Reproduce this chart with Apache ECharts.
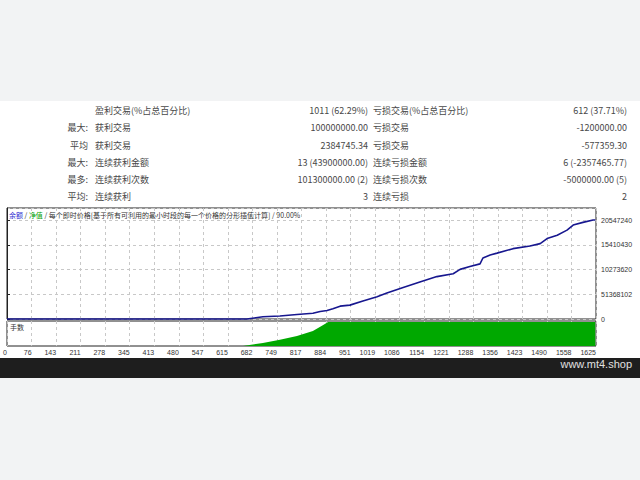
<!DOCTYPE html>
<html>
<head>
<meta charset="utf-8">
<script src="https://cdn.jsdelivr.net/npm/echarts/dist/echarts.min.js"></script>
<style>
  html, body { margin:0; padding:0; width:640px; height:480px; background:#f2f3f4; overflow:hidden; }
  #white { position:absolute; left:0; top:101px; width:640px; height:257px; background:#ffffff; }
  #footer { position:absolute; left:0; top:358px; width:640px; height:20px; background:#1e1e1e; }
  #footer span { position:absolute; right:8px; top:0; line-height:20px; color:#e0e0e0; font:11px "Liberation Sans", Arial, sans-serif; }
  .cell { position:absolute; height:12px; line-height:12px; font:9px "Noto Sans CJK SC", "Liberation Sans", sans-serif; color:#484848; white-space:nowrap; }
  #chart { position:absolute; left:0; top:200px; width:640px; height:158px; }
</style>
</head>
<body>
<div id="white"></div>
<div id="table"></div>
<div id="chart"></div>
<div id="footer"><span>www.mt4.shop</span></div>
<script>
// ---- table text ----
const rowPrefix  = ['', '最大:', '平均', '最大:', '最多:', '平均:'];
const winLabels  = ['盈利交易(%占总百分比)', '获利交易', '获利交易', '连续获利金额', '连续获利次数', '连续获利'];
const winValues  = ['1011 (62.29%)', '100000000.00', '2384745.34', '13 (43900000.00)', '101300000.00 (2)', '3'];
const lossLabels = ['亏损交易(%占总百分比)', '亏损交易', '亏损交易', '连续亏损金额', '连续亏损次数', '连续亏损'];
const lossValues = ['612 (37.71%)', '-1200000.00', '-577359.30', '6 (-2357465.77)', '-5000000.00 (5)', '2'];

// ---- chart data ----
const xTickLabels = ['0','76','143','211','278','345','413','480','547','615','682','749','817','884','951','1019','1086','1154','1221','1288','1356','1423','1490','1558','1625'];
const yTickLabels = ['0','51368102','10273620','15410430','20547240'];
const balanceTrades = [0, 662, 706, 753, 800, 844, 864, 883, 899, 919, 946, 982, 1021, 1048, 1093, 1139, 1186, 1231, 1250, 1277, 1305, 1313, 1333, 1352, 1396, 1443, 1471, 1490, 1518, 1545, 1562, 1589, 1617, 1623];
const balanceValues = [0, 0, 460000, 630000, 930000, 1200000, 1550000, 1770000, 2150000, 2670000, 2880000, 3720000, 4630000, 5400000, 6560000, 7700000, 8800000, 9400000, 10300000, 10900000, 11440000, 12660000, 13300000, 13670000, 14600000, 15140000, 15650000, 16700000, 17400000, 18440000, 19500000, 20060000, 20550000, 20547240];
const lotTrades = [0, 651, 706, 753, 800, 844, 870, 886, 1623];
const lotValues = [0, 0, 12, 25, 40, 60, 82, 96, 96];

// build table
(function(){
  const t = document.getElementById('table');
  const rowY = [110, 127.3, 144.5, 161.8, 179, 196.3];
  function add(text, x, y, align){
    const d = document.createElement('div');
    d.className = 'cell';
    d.textContent = text;
    d.style.top = (y - 6) + 'px';
    if (align === 'right') { d.style.right = (640 - x) + 'px'; } else { d.style.left = x + 'px'; }
    t.appendChild(d);
  }
  for (let i = 0; i < 6; i++) {
    if (rowPrefix[i]) add(rowPrefix[i], 88, rowY[i], 'right');
    add(winLabels[i], 95, rowY[i], 'left');
    add(winValues[i], 368, rowY[i], 'right');
    add(lossLabels[i], 373, rowY[i], 'left');
    add(lossValues[i], 627, rowY[i], 'right');
  }
})();

const chart = echarts.init(document.getElementById('chart'), null, {renderer:'svg'});
const X_MAX = 1625;
const X_INT = X_MAX / 24;
const Y_INT = 5136810;
const gridLine = { show:true, lineStyle:{ color:'#c8c8c8', type:[3,3], width:1 } };
function xFmt(v){
  const i = Math.round(v / X_INT);
  return (Math.abs(v - i * X_INT) < 0.5 && xTickLabels[i] !== undefined) ? xTickLabels[i] : '';
}
function yFmt(v){
  const i = Math.round(v / Y_INT);
  return (Math.abs(v - i * Y_INT) < 1 && yTickLabels[i] !== undefined) ? yTickLabels[i] : '';
}
const font7 = '"Liberation Sans", Arial, sans-serif';

chart.setOption({
  animation:false,
  grid:[
    { left:7, right:44, top:8, height:111, show:true, borderColor:'#222', borderWidth:1, backgroundColor:'#fff' },
    { left:7, right:44, top:121, height:25, show:true, borderColor:'#222', borderWidth:1, backgroundColor:'#fff' }
  ],
  xAxis:[
    { type:'value', gridIndex:0, min:0, max:X_MAX, interval:X_INT,
      axisLine:{show:false}, axisTick:{show:false}, axisLabel:{show:false}, splitLine:gridLine },
    { type:'value', gridIndex:1, min:0, max:X_MAX, interval:X_INT,
      axisLine:{show:false}, axisTick:{show:false}, splitLine:gridLine,
      axisLabel:{ show:true, formatter:xFmt, fontSize:7, color:'#333', fontFamily:font7, align:'right', margin:3, showMinLabel:true, showMaxLabel:true } }
  ],
  yAxis:[
    { type:'value', gridIndex:0, position:'right', min:0, max:23040000, interval:Y_INT,
      axisLine:{show:true, lineStyle:{color:'#222'}}, axisTick:{show:true, length:3, inside:false, lineStyle:{color:'#222'}},
      axisLabel:{ formatter:yFmt, fontSize:7, color:'#333', fontFamily:font7, margin:5, showMaxLabel:false }, splitLine:gridLine },
    { type:'value', gridIndex:1, position:'right', min:0, max:100,
      axisLine:{show:false}, axisTick:{show:false}, axisLabel:{show:false}, splitLine:{show:false} }
  ],
  series:[
    { type:'line', xAxisIndex:1, yAxisIndex:1, symbol:'none', silent:true,
      data: lotTrades.map((t,i)=>[t, lotValues[i]]),
      lineStyle:{ width:0, color:'#00a800' }, areaStyle:{ color:'#00a800', opacity:1 } },
    { type:'line', xAxisIndex:0, yAxisIndex:0, symbol:'none', silent:true, clip:false,
      data: balanceTrades.map((t,i)=>[t, balanceValues[i]]),
      lineStyle:{ width:1.6, color:'#17178f' } }
  ],
  graphic:[
    { type:'text', left:9, top:11, silent:true,
      style:{ text:'{b|余额} / {g|净值} / 每个即时价格[基于所有可利用的最小时段的每一个价格的分形插值计算] / 90.00%',
        font:'7px "Noto Sans CJK SC", sans-serif', fill:'#333',
        rich:{ b:{ fill:'#2a2ad0', font:'7px "Noto Sans CJK SC", sans-serif' }, g:{ fill:'#00a000', font:'7px "Noto Sans CJK SC", sans-serif' } } } },
    { type:'text', left:10, top:123, silent:true,
      style:{ text:'手数', font:'7px "Noto Sans CJK SC", sans-serif', fill:'#333' } }
  ]
});
</script>
</body>
</html>
